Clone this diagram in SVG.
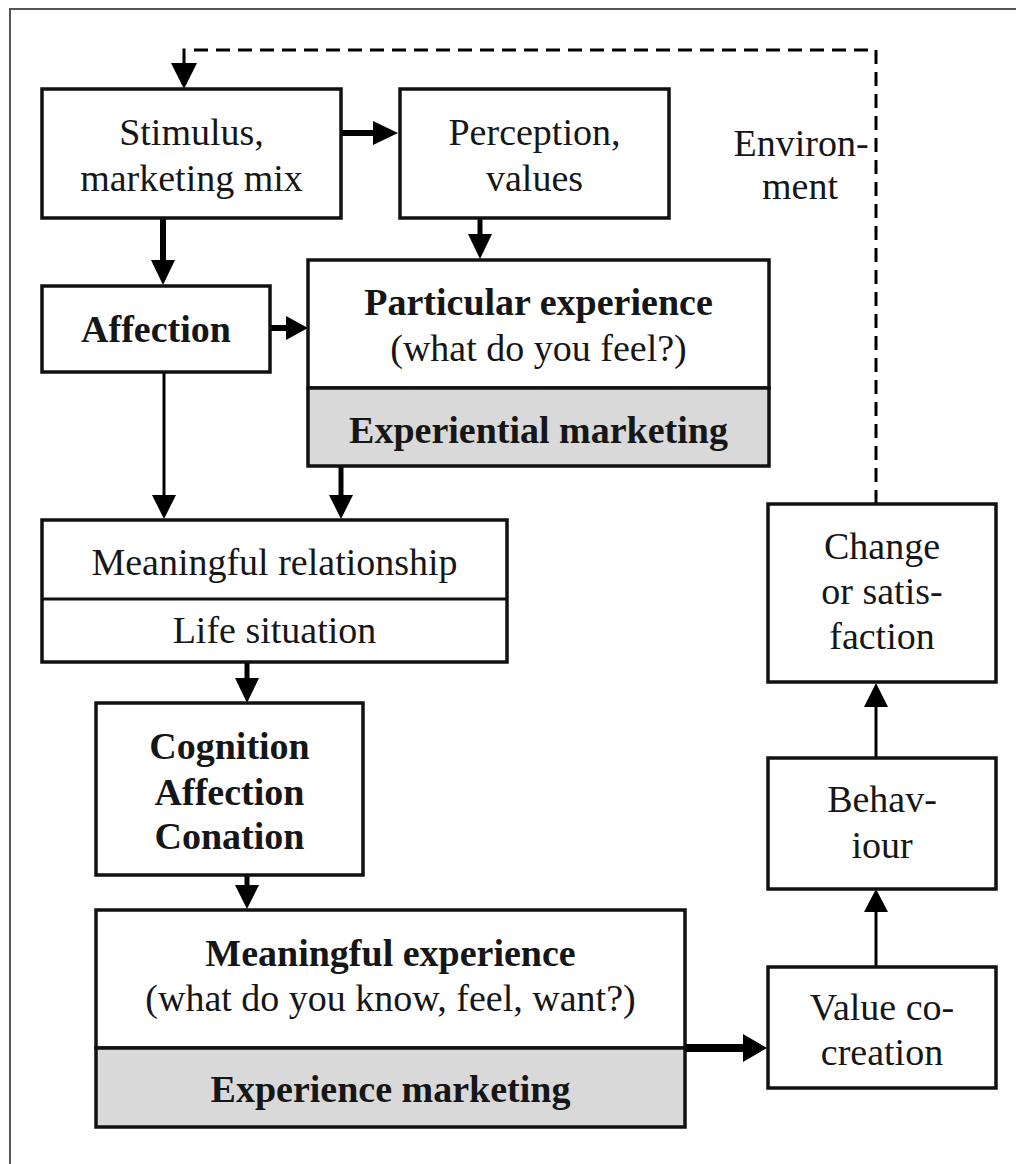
<svg xmlns="http://www.w3.org/2000/svg" width="1016" height="1164" viewBox="0 0 1016 1164" font-family="'Liberation Serif', 'Times New Roman', 'DejaVu Serif', 'Noto Serif', Times, serif">
<style>
.box{fill:#fff;stroke:#111;stroke-width:3.5}
.gray{fill:#d9d9d9;stroke:#111;stroke-width:3.5}
.div{stroke:#111;stroke-width:3}
.t{font-size:38px;fill:#161616;text-anchor:middle}
.b{font-weight:bold}
.c{stroke:#000;fill:none}
.hd{fill:#000}
</style>
<rect x="10" y="9" width="1030" height="1180" fill="#fff" stroke="#555" stroke-width="2"/>

<g id="connectors">
<path class="c" d="M876,504 V50 H186" stroke-width="3" stroke-dasharray="14 8"/>
<path class="c" d="M184,48.5 V75" stroke-width="3"/>
<polygon class="hd" points="171,63 197,63 184,89"/>
<path class="c" d="M341,133 H380" stroke-width="6"/>
<polygon class="hd" points="373,121 373,145 398,133"/>
<path class="c" d="M163,218 V265" stroke-width="6"/>
<polygon class="hd" points="151,260 175,260 163,285"/>
<path class="c" d="M480,218 V240" stroke-width="5"/>
<polygon class="hd" points="468,234 492,234 480,259"/>
<path class="c" d="M270,328 H292" stroke-width="6"/>
<polygon class="hd" points="286,316 286,340 308,328"/>
<path class="c" d="M164,372 V500" stroke-width="3"/>
<polygon class="hd" points="152,495 176,495 164,519"/>
<path class="c" d="M341,466 V500" stroke-width="5"/>
<polygon class="hd" points="329,495 353,495 341,519"/>
<path class="c" d="M247,662 V685" stroke-width="5"/>
<polygon class="hd" points="235,678 259,678 247,703"/>
<path class="c" d="M247,875 V892" stroke-width="5"/>
<polygon class="hd" points="235,885 259,885 247,909"/>
<path class="c" d="M685,1048 H750" stroke-width="8"/>
<polygon class="hd" points="743,1034 743,1062 767,1048"/>
<path class="c" d="M876,967 V905" stroke-width="3"/>
<polygon class="hd" points="864,912 888,912 876,889"/>
<path class="c" d="M876,758 V700" stroke-width="3"/>
<polygon class="hd" points="864,707 888,707 876,683"/>
</g>

<g id="stimulus">
<rect class="box" x="42" y="89" width="299" height="129"/>
<text class="t" x="191.5" y="145">Stimulus,</text>
<text class="t" x="191.5" y="191">marketing mix</text>
</g>
<g id="perception">
<rect class="box" x="400" y="89" width="269" height="129"/>
<text class="t" x="534.5" y="145">Perception,</text>
<text class="t" x="534.5" y="191">values</text>
</g>
<g id="environment">
<text class="t" x="801" y="156">Environ-</text>
<text class="t" x="800" y="199">ment</text>
</g>
<g id="affection">
<rect class="box" x="42" y="286" width="228" height="86"/>
<text class="t b" x="156" y="342">Affection</text>
</g>
<g id="particular">
<rect class="box" x="308" y="260" width="461" height="128"/>
<rect class="gray" x="308" y="388" width="461" height="78"/>
<text class="t b" x="538.5" y="315">Particular experience</text>
<text class="t" x="538.5" y="361">(what do you feel?)</text>
<text class="t b" x="538.5" y="443">Experiential marketing</text>
</g>
<g id="relationship">
<rect class="box" x="42" y="520" width="465" height="142"/>
<line class="div" x1="42" y1="599" x2="507" y2="599" stroke-width="2.2"/>
<text class="t" x="274.5" y="575">Meaningful relationship</text>
<text class="t" x="274.5" y="643">Life situation</text>
</g>
<g id="cognition">
<rect class="box" x="96" y="703" width="267" height="172"/>
<text class="t b" x="229.5" y="759">Cognition</text>
<text class="t b" x="229.5" y="805">Affection</text>
<text class="t b" x="229.5" y="849">Conation</text>
</g>
<g id="meaningful-experience">
<rect class="box" x="96" y="910" width="589" height="138"/>
<rect class="gray" x="96" y="1048" width="589" height="79"/>
<text class="t b" x="390.5" y="966">Meaningful experience</text>
<text class="t" x="390.5" y="1011">(what do you know, feel, want?)</text>
<text class="t b" x="390.5" y="1102">Experience marketing</text>
</g>
<g id="value">
<rect class="box" x="768" y="967" width="228" height="121"/>
<text class="t" x="882" y="1020">Value co-</text>
<text class="t" x="882" y="1065">creation</text>
</g>
<g id="behaviour">
<rect class="box" x="768" y="758" width="228" height="131"/>
<text class="t" x="882" y="812">Behav-</text>
<text class="t" x="882" y="858">iour</text>
</g>
<g id="change">
<rect class="box" x="768" y="504" width="228" height="178"/>
<text class="t" x="882" y="559">Change</text>
<text class="t" x="882" y="604">or satis-</text>
<text class="t" x="882" y="649">faction</text>
</g>
</svg>
